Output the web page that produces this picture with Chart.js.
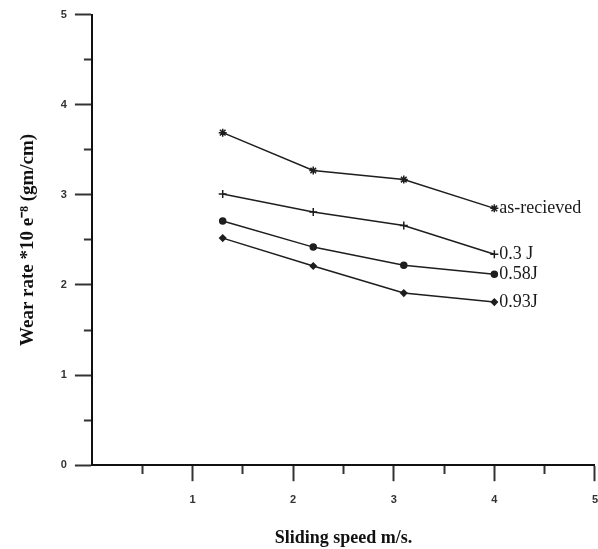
<!DOCTYPE html>
<html>
<head>
<meta charset="utf-8">
<script src="https://cdn.jsdelivr.net/npm/chart.js@4/dist/chart.umd.min.js"></script>
<style>
    html, body { margin: 0; padding: 0; background: #fff; overflow: hidden; }
    #wrap { width: 610px; height: 549px; }
</style>
</head>
<body>
<div id="wrap"><canvas id="wearChart"></canvas></div>
<script>
// sliding speed (m/s)
const speeds = [1.3, 2.2, 3.1, 4.0];

// wear rate *10 e-8 (gm/cm)
const asReceived = [3.69, 3.27, 3.17, 2.85];
const j03 = [3.01, 2.81, 2.66, 2.34];
const j058 = [2.71, 2.42, 2.22, 2.12];
const j093 = [2.52, 2.21, 1.91, 1.81];

const seriesLabels = ['as-recieved', '0.3 J', '0.58J', '0.93J'];
const xTicks = [1, 2, 3, 4, 5];
const yTicks = [0, 1, 2, 3, 4, 5];

function toPoints(values) {
    return values.map((v, i) => ({ x: speeds[i], y: v }));
}

// Nur die ganzen Werte bekommen lange Striche, halbe Werte kurze
function isMajor(value, list) {
    return list.includes(value);
}

// Beschriftung rechts am Linienende
const endLabels = {
    id: 'endLabels',
    afterDatasetsDraw(chart) {
        const ctx = chart.ctx;
        ctx.save();
        ctx.font = '18px "Liberation Serif", serif';
        ctx.fillStyle = '#1a1a1a';
        ctx.textBaseline = 'middle';
        chart.data.datasets.forEach((ds, i) => {
            const meta = chart.getDatasetMeta(i);
            const last = meta.data[meta.data.length - 1];
            ctx.fillText(ds.label, last.x + 5, last.y);
        });
        ctx.restore();
    }
};

const lineColor = '#1e1e1e';

const ctx = document.getElementById('wearChart').getContext('2d');
const wearChart = new Chart(ctx, {
    type: 'line',
    data: {
        datasets: [
            { label: seriesLabels[0], data: toPoints(asReceived), pointStyle: 'star', pointRadius: 4, borderWidth: 1.5 },
            { label: seriesLabels[1], data: toPoints(j03), pointStyle: 'cross', pointRadius: 4, borderWidth: 1.5 },
            { label: seriesLabels[2], data: toPoints(j058), pointStyle: 'circle', pointRadius: 3, borderWidth: 1.5 },
            { label: seriesLabels[3], data: toPoints(j093), pointStyle: 'rectRot', pointRadius: 3, borderWidth: 1.5 }
        ].map(ds => Object.assign(ds, {
            borderColor: lineColor,
            backgroundColor: lineColor,
            pointBorderColor: lineColor,
            pointBackgroundColor: lineColor,
            pointBorderWidth: 1.5,
            tension: 0,
            fill: false
        }))
    },
    options: {
        responsive: true,
        maintainAspectRatio: false,
        animation: false,
        layout: { padding: { top: 12, left: 0, right: 0, bottom: 0 } },
        plugins: {
            legend: { display: false },
            tooltip: { enabled: false }
        },
        scales: {
            x: {
                type: 'linear',
                min: 0,
                max: 5,
                border: { display: true, color: '#111', width: 2 },
                grid: {
                    drawOnChartArea: false,
                    drawTicks: true,
                    tickLength: 16,
                    tickWidth: 2,
                    tickColor: c => c.tick && c.tick.value === 0 ? 'rgba(0,0,0,0)' : '#333',
                    tickBorderDash: c => c.tick && isMajor(c.tick.value, xTicks) ? [] : [8, 100]
                },
                ticks: {
                    stepSize: 0.5,
                    padding: 12,
                    color: '#333',
                    font: { family: '"Liberation Sans", Arial, sans-serif', size: 11, weight: 'bold' },
                    callback: v => isMajor(v, xTicks) ? String(v) : ''
                },
                title: {
                    display: true,
                    text: 'Sliding speed m/s.',
                    color: '#111',
                    font: { family: '"Liberation Serif", serif', size: 18, weight: 'bold' },
                    padding: { top: 9, bottom: 0 }
                }
            },
            y: {
                type: 'linear',
                min: 0,
                max: 5,
                border: { display: true, color: '#111', width: 2 },
                grid: {
                    drawOnChartArea: false,
                    drawTicks: true,
                    tickLength: 17,
                    tickWidth: 2,
                    tickColor: '#333',
                    tickBorderDash: c => c.tick && isMajor(c.tick.value, yTicks) ? [] : [0, 9, 8, 100]
                },
                ticks: {
                    stepSize: 0.5,
                    padding: 8,
                    color: '#333',
                    font: { family: '"Liberation Sans", Arial, sans-serif', size: 11, weight: 'bold' },
                    callback: v => isMajor(v, yTicks) ? String(v) : ''
                },
                title: {
                    display: true,
                    text: 'Wear rate *10 e\u207B\u2078 (gm/cm)',
                    color: '#111',
                    font: { family: '"Liberation Serif", serif', size: 19, weight: 'bold' },
                    padding: { top: 17, bottom: 13 }
                }
            }
        }
    },
    plugins: [endLabels]
});
</script>
</body>
</html>
